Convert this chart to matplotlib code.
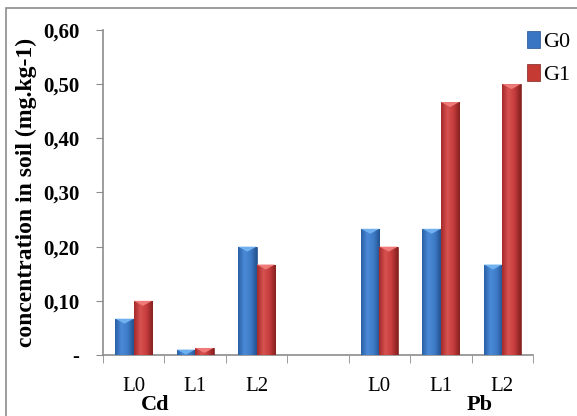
import numpy as np
import matplotlib.pyplot as plt
from matplotlib.patches import Rectangle, Polygon
from matplotlib.colors import LinearSegmentedColormap

# dados
categorias = ['L0', 'L1', 'L2', '', 'L0', 'L1', 'L2']
grupos = ['Cd', 'Pb']
g0 = [0.067, 0.010, 0.200, np.nan, 0.233, 0.233, 0.167]
g1 = [0.100, 0.013, 0.167, np.nan, 0.200, 0.467, 0.500]
yticks = [0, 0.1, 0.2, 0.3, 0.4, 0.5, 0.6]
ytick_labels = ['-', '0,10', '0,20', '0,30', '0,40', '0,50', '0,60']

plt.rcParams['font.family'] = ['Liberation Serif', 'DejaVu Serif']

fig = plt.figure(figsize=(5.77, 4.16), dpi=100)

# moldura do gráfico
fig.patches.append(Rectangle((6 / 577, -0.05), 1.0, 0.05 + (416 - 8) / 416,
                             transform=fig.transFigure, fill=False,
                             edgecolor='#8c8c8c', linewidth=1.2, zorder=1))

ax = fig.add_axes([103 / 577, 1 - 355 / 416, 430 / 577, 325 / 416])
ax.patch.set_alpha(0)

x = np.arange(len(categorias))
w = 0.3
barras0 = ax.bar(x - w / 2, g0, w, color='#3a75c4', edgecolor='#244f88',
                 linewidth=0.5, label='G0', zorder=3)
barras1 = ax.bar(x + w / 2, g1, w, color='#c63a34', edgecolor='#7e2420',
                 linewidth=0.5, label='G1', zorder=3)

ax.set_xlim(-0.5, len(categorias) - 0.5)
ax.set_ylim(0, 0.6)

# efeito de degradê e chanfro no topo das barras
cmap0 = LinearSegmentedColormap.from_list('b', ['#2a5fa6', '#4a8ad6', '#3f7cc8', '#24528f'])
cmap1 = LinearSegmentedColormap.from_list('r', ['#a42a2a', '#d85252', '#c63c3c', '#862020'])
grad = np.linspace(0, 1, 64).reshape(1, -1)
chanfro = 5 / 541.7
for barras, cmap, cor_top in [(barras0, cmap0, '#6fb0ee'), (barras1, cmap1, '#ee7b78')]:
    for b in barras:
        h = b.get_height()
        if not np.isfinite(h):
            continue
        x0 = b.get_x()
        bw = b.get_width()
        im = ax.imshow(grad, cmap=cmap, aspect='auto', extent=(x0, x0 + bw, 0, h),
                       zorder=3.5, interpolation='bicubic')
        im.set_clip_path(b)
        hc = min(chanfro, h)
        ax.add_patch(Polygon([(x0, h), (x0 + bw, h), (x0 + bw / 2, h - hc)],
                             closed=True, facecolor=cor_top, edgecolor='none',
                             zorder=3.6))

ax.set_xlim(-0.5, len(categorias) - 0.5)
ax.set_ylim(0, 0.6)
ax.set_aspect('auto')
ax.set_yticks(yticks)
ax.set_yticklabels(ytick_labels, fontsize=15, fontweight='bold')
ax.set_xticks(x)
ax.set_xticklabels(categorias, fontsize=15)
ax.set_xticks(np.arange(-0.5, len(categorias)), minor=True)
ax.tick_params(axis='x', which='major', length=0, pad=16)
ax.tick_params(axis='x', which='minor', length=6, color='#8c8c8c', direction='out')
ax.tick_params(axis='y', length=5, color='#8c8c8c', pad=12)

for s in ['top', 'right']:
    ax.spines[s].set_visible(False)
for s in ['left', 'bottom']:
    ax.spines[s].set_color('#8c8c8c')
    ax.spines[s].set_linewidth(1.2)

ax.set_ylabel('concentration in soil (mg.kg-1)', fontsize=17, fontweight='bold',
              labelpad=4)

fig.text(155 / 577, 1 - 405 / 416, grupos[0], ha='center', va='center',
         fontsize=16, fontweight='bold')
fig.text(480 / 577, 1 - 405 / 416, grupos[1], ha='center', va='center',
         fontsize=16, fontweight='bold')

ax.legend(loc='upper left', bbox_to_anchor=(0.965, 1.025), frameon=False,
          fontsize=16, handlelength=0.6, handleheight=0.8, handletextpad=0.15,
          labelspacing=0.55, borderaxespad=0)

fig.savefig('out.png', dpi=100)
